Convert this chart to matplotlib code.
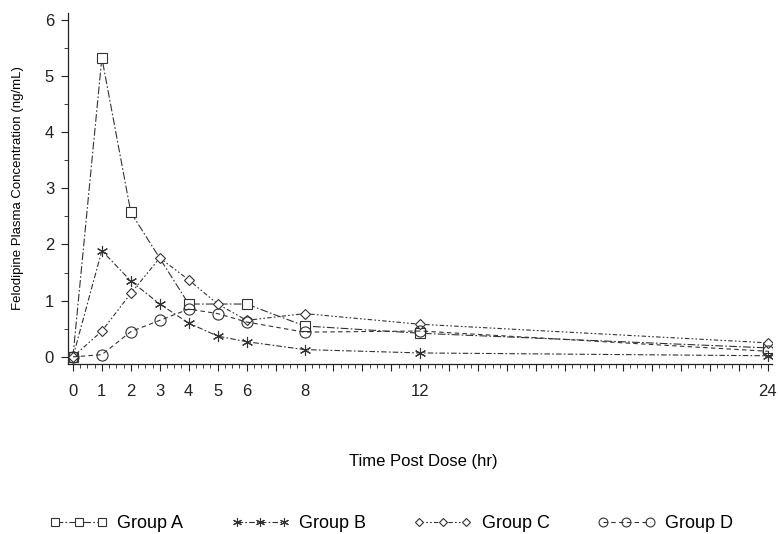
import numpy as np
import matplotlib
matplotlib.use("Agg")
from matplotlib import pyplot as plt
from matplotlib.ticker import MultipleLocator, FixedLocator

plt.rcParams['font.family'] = ['Liberation Sans', 'DejaVu Sans']

# valores (ng/mL)
t_a = [0, 1, 2, 4, 6, 8, 12, 24]
grupo_a = [0, 5.32, 2.57, 0.94, 0.94, 0.55, 0.42, 0.16]
t_b = [0, 1, 2, 3, 4, 5, 6, 8, 12, 24]
grupo_b = [0, 1.89, 1.35, 0.94, 0.60, 0.37, 0.27, 0.13, 0.07, 0.02]
t_c = [0, 1, 2, 3, 4, 5, 6, 8, 12, 24]
grupo_c = [0, 0.46, 1.13, 1.76, 1.37, 0.94, 0.65, 0.77, 0.58, 0.25]
t_d = [0, 1, 2, 3, 4, 5, 6, 8, 12, 24]
grupo_d = [0, 0.04, 0.45, 0.65, 0.85, 0.77, 0.62, 0.44, 0.46, 0.10]
etiquetas_x = [0, 1, 2, 3, 4, 5, 6, 8, 12, 24]

fig = plt.figure(figsize=(7.78, 5.34), dpi=100)
ax = fig.add_axes([0.0874, 0.318, 0.905, 0.658])

col = '#333333'
ax.plot(t_a, grupo_a, color=col, lw=0.8, ls=(0, (7, 2, 1.5, 2)), marker='s', ms=7,
        mfc='white', mec=col, mew=0.8, label='Group A', zorder=3)
ax.plot(t_b, grupo_b, color=col, lw=0.8, ls=(0, (5, 2, 1.5, 2)), marker=(6, 2, 0), ms=8,
        mec=col, mew=0.8, label='Group B', zorder=3)
ax.plot(t_c, grupo_c, color=col, lw=0.8, ls=(0, (4, 2, 1.5, 2, 1.5, 2)), marker='D', ms=5,
        mfc='white', mec=col, mew=0.8, label='Group C', zorder=3)
ax.plot(t_d, grupo_d, color=col, lw=0.8, ls=(0, (4, 3)), marker='o', ms=8,
        mfc='none', mec=col, mew=0.8, label='Group D', zorder=3)

ax.set_xlim(-0.17, 24.15)
ax.set_ylim(-0.13, 6.12)
ax.xaxis.set_major_locator(FixedLocator(range(0, 25)))
ax.xaxis.set_minor_locator(MultipleLocator(0.25))
ax.set_xticklabels([str(i) if i in etiquetas_x else '' for i in range(0, 25)])
ax.yaxis.set_major_locator(MultipleLocator(1))
ax.yaxis.set_minor_locator(MultipleLocator(0.5))

for s in ['top', 'right']:
    ax.spines[s].set_visible(False)
for s in ['left', 'bottom']:
    ax.spines[s].set_linewidth(0.9)
    ax.spines[s].set_color('#222222')
ax.tick_params(axis='both', which='major', direction='out', length=5, width=0.8,
               labelsize=12, colors='#222222')
ax.tick_params(axis='both', which='minor', direction='out', length=3, width=0.6,
               colors='#222222')
ax.tick_params(axis='x', which='major', pad=9)
ax.tick_params(axis='y', which='major', pad=5)

ax.set_ylabel('Felodipine Plasma Concentration (ng/mL)', fontsize=9.5)
ax.yaxis.set_label_coords(-0.062, 0.5)
ax.set_xlabel('Time Post Dose (hr)', fontsize=12)
ax.xaxis.set_label_coords(0.505, -0.255)

fig.legend(loc='center', bbox_to_anchor=(0.503, 0.02), ncol=4, frameon=False,
           numpoints=3, handlelength=3.2, handletextpad=0.55, columnspacing=2.65,
           markerscale=0.8, fontsize=13)

fig.savefig('out.png', dpi=100)
